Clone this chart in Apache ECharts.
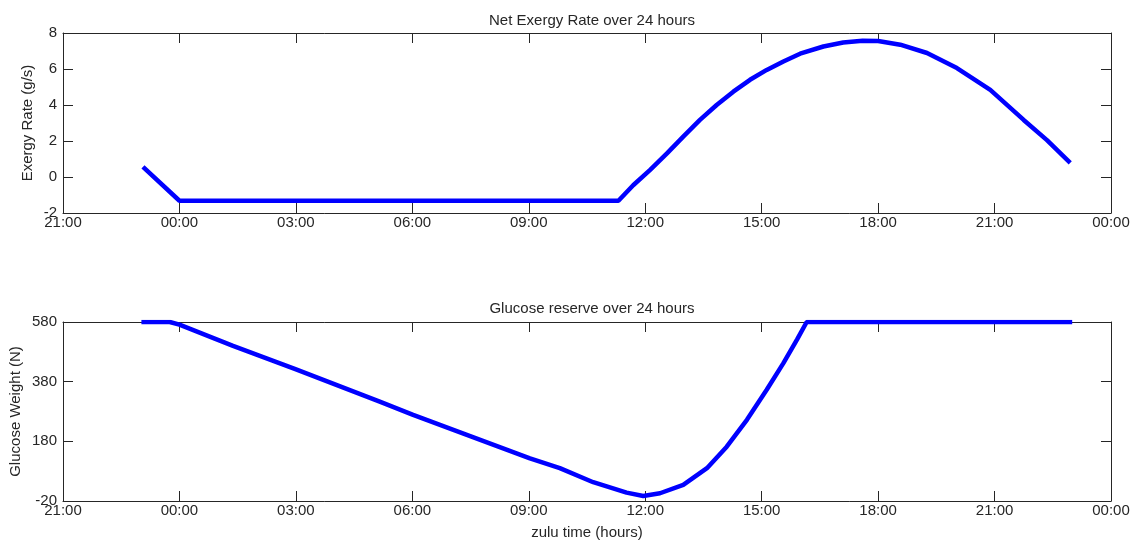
<!DOCTYPE html>
<html>
<head>
<meta charset="utf-8">
<script src="https://cdn.jsdelivr.net/npm/echarts@6/dist/echarts.min.js"></script>
<style>
html,body{margin:0;padding:0;background:#fff;}
#chart{width:1135px;height:546px;}
</style>
</head>
<body>
<div id="chart"></div>
<script>
// Hours measured from 00:00 of the previous day (21 = 21:00, 24 = 00:00, 48 = 00:00 next day)
const exergyHours = [23.06, 24.0, 35.31, 35.69, 36.12, 36.56, 36.98, 37.41, 37.84, 38.27, 38.70, 39.13, 39.56, 39.99, 40.59, 41.1, 41.6, 42.0, 42.57, 43.26, 44.03, 44.89, 45.75, 46.35, 46.95];
const exergyRate  = [0.56, -1.32, -1.32, -0.46, 0.38, 1.31, 2.24, 3.17, 4.0, 4.74, 5.4, 5.95, 6.42, 6.85, 7.25, 7.47, 7.57, 7.56, 7.35, 6.89, 6.05, 4.84, 3.17, 2.05, 0.79];

const glucoseHours  = [23.02, 23.75, 24.0, 25.38, 26.97, 29.16, 30.02, 33.03, 33.80, 34.66, 35.52, 35.95, 36.38, 36.98, 37.59, 38.10, 38.62, 39.13, 39.56, 39.91, 40.16, 47.0];
const glucoseWeight = [580, 580, 571, 500, 423, 313, 269, 123, 90, 43, 8, -3, 6, 34, 90, 162, 252, 353, 442, 521, 580, 580];

const xMin = 21, xMax = 48, xStep = 3;
const exergyTicks = {min: -2, max: 8, interval: 2};
const glucoseTicks = {min: -20, max: 580, interval: 200};

const titles = ['Net Exergy Rate over 24 hours', 'Glucose reserve over 24 hours'];
const yNames = ['Exergy Rate (g/s)', 'Glucose Weight (N)'];
const xName = 'zulu time (hours)';

function pad(n){ return (n < 10 ? '0' : '') + n; }
function timeFmt(v){ return pad(((Math.round(v) % 24) + 24) % 24) + ':00'; }

const ink = '#262626';
const font = 'Liberation Sans, Arial, sans-serif';
const fs = 15;
const lineStyle = {color: ink, width: 1};
const tick = {show: true, inside: true, length: 10, lineStyle: {color: ink, width: 1}};

function xAxes(gi, withName){
  return [
    {type: 'value', gridIndex: gi, position: 'bottom', min: xMin, max: xMax, interval: xStep,
     axisLine: {show: true, onZero: false, lineStyle}, axisTick: tick, splitLine: {show: false},
     axisLabel: {formatter: timeFmt, color: ink, fontFamily: font, fontSize: fs, margin: 2, showMinLabel: true, showMaxLabel: true},
     name: withName ? xName : '', nameLocation: 'middle', nameGap: 24, nameMoveOverlap: false,
     nameTextStyle: {color: ink, fontFamily: font, fontSize: fs}},
    {type: 'value', gridIndex: gi, position: 'top', min: xMin, max: xMax, interval: xStep,
     axisLine: {show: true, onZero: false, lineStyle}, axisTick: tick, splitLine: {show: false},
     axisLabel: {show: false}}
  ];
}
function yAxes(gi, t, name, gap){
  return [
    {type: 'value', gridIndex: gi, position: 'left', min: t.min, max: t.max, interval: t.interval,
     axisLine: {show: true, onZero: false, lineStyle}, axisTick: tick, splitLine: {show: false},
     axisLabel: {color: ink, fontFamily: font, fontSize: fs, margin: 6, showMinLabel: true, showMaxLabel: true},
     name: name, nameLocation: 'middle', nameGap: gap, nameRotate: 90, nameMoveOverlap: false,
     nameTextStyle: {color: ink, fontFamily: font, fontSize: fs}},
    {type: 'value', gridIndex: gi, position: 'right', min: t.min, max: t.max, interval: t.interval,
     axisLine: {show: true, onZero: false, lineStyle}, axisTick: tick, splitLine: {show: false},
     axisLabel: {show: false}}
  ];
}

const chart = echarts.init(document.getElementById('chart'), null, {renderer: 'canvas'});
chart.setOption({
  animation: false,
  backgroundColor: '#fff',
  title: [
    {text: titles[0], left: 587, top: 8, textAlign: 'center',
     textStyle: {color: ink, fontFamily: font, fontSize: fs, fontWeight: 'normal'}},
    {text: titles[1], left: 587, top: 296, textAlign: 'center',
     textStyle: {color: ink, fontFamily: font, fontSize: fs, fontWeight: 'normal'}}
  ],
  grid: [
    {left: 63, top: 33, width: 1048, height: 180, containLabel: false, outerBoundsMode: 'none'},
    {left: 63, top: 322, width: 1048, height: 179, containLabel: false, outerBoundsMode: 'none'}
  ],
  xAxis: [...xAxes(0, false), ...xAxes(1, true)],
  yAxis: [...yAxes(0, exergyTicks, yNames[0], 28), ...yAxes(1, glucoseTicks, yNames[1], 40)],
  series: [
    {type: 'line', xAxisIndex: 0, yAxisIndex: 0, showSymbol: false, symbol: 'none',
     smooth: false,
     data: exergyHours.map((h, i) => [h, exergyRate[i]]),
     lineStyle: {color: '#0000ff', width: 4.5}},
    {type: 'line', xAxisIndex: 2, yAxisIndex: 2, showSymbol: false, symbol: 'none',
     smooth: false,
     data: glucoseHours.map((h, i) => [h, glucoseWeight[i]]),
     lineStyle: {color: '#0000ff', width: 4.5}}
  ]
});
</script>
</body>
</html>
